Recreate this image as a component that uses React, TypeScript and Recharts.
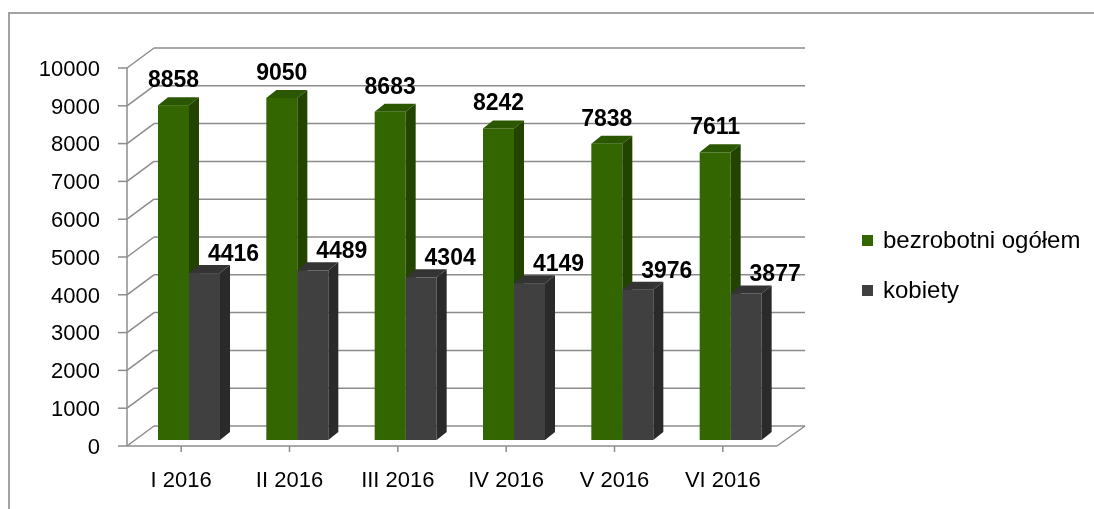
import React from 'react';
import { BarChart, Bar, XAxis, YAxis, CartesianGrid } from 'recharts';

// Dane: liczba bezrobotnych (I–VI 2016)
const miesiace = ['I 2016', 'II 2016', 'III 2016', 'IV 2016', 'V 2016', 'VI 2016'];
const bezrobotniOgolem = [8858, 9050, 8683, 8242, 7838, 7611];
const kobiety = [4416, 4489, 4304, 4149, 3976, 3877];
const yTicks = [0, 1000, 2000, 3000, 4000, 5000, 6000, 7000, 8000, 9000, 10000];
const nazwySerii = ['bezrobotni ogółem', 'kobiety'];

const FONT = '"Liberation Sans", Arial, sans-serif';
const GRID = '#8c8c8c';

const kolory = {
  ogolem: { front: '#336600', side: '#224400', top: '#2b5700' },
  kobiety: { front: '#404040', side: '#2a2a2a', top: '#343434' },
};

const W = 1078;
const H = 493;
const MARGIN = { top: 60, right: 309, bottom: 5, left: 0 };
const X_AXIS_H = 50;
const PLOT_BOTTOM = H - MARGIN.bottom - X_AXIS_H;

// przesunięcie "tylnej ściany" wykresu 3D
const WALL_DX = 27;
const WALL_DY = 20;
// głębokość słupków i ich przesunięcie w głąb
const BAR_DX = 10;
const BAR_DY = 8;
const SHIFT_X = 8;
const SHIFT_Y = -6;

const dane = miesiace.map((m, i) => ({
  miesiac: m,
  ogolem: bezrobotniOgolem[i],
  kobiety: kobiety[i],
}));

const liniaSiatki = (props: any) => {
  const { x1, y1, x2, index } = props;
  const bx1 = x1 + WALL_DX;
  const bx2 = x2 + WALL_DX + 1;
  const by = y1 - WALL_DY;
  const podloga = Math.abs(y1 - PLOT_BOTTOM) < 1;
  return (
    <g key={`grid-${index}`}>
      <line x1={x1} y1={y1} x2={bx1} y2={by} stroke={GRID} strokeWidth={1.5} />
      <line x1={bx1} y1={by} x2={bx2} y2={by} stroke={GRID} strokeWidth={1.5} />
      {podloga && <line x1={x2} y1={y1} x2={bx2} y2={by} stroke={GRID} strokeWidth={1.5} />}
    </g>
  );
};

const Slupek3D = (props: any) => {
  const { x, y, width, height, c } = props;
  if (height == null || height <= 0) return null;
  const X = x + SHIFT_X;
  const Y = y + SHIFT_Y;
  const w = width;
  const h = height;
  return (
    <g>
      <rect x={X} y={Y} width={w} height={h} fill={c.front} />
      <polygon
        points={`${X},${Y} ${X + BAR_DX},${Y - BAR_DY} ${X + w + BAR_DX},${Y - BAR_DY} ${X + w},${Y}`}
        fill={c.top}
      />
      <polygon
        points={`${X + w},${Y} ${X + w + BAR_DX},${Y - BAR_DY} ${X + w + BAR_DX},${Y + h - BAR_DY} ${X + w},${Y + h}`}
        fill={c.side}
      />
    </g>
  );
};

const etykieta = (offsetX: number, offsetY: number) => (props: any) => {
  const { x, y, width, value, index } = props;
  return (
    <text
      key={`lbl-${index}`}
      x={x + SHIFT_X + width / 2 + offsetX}
      y={y + SHIFT_Y - offsetY}
      textAnchor="middle"
      fontFamily={FONT}
      fontSize={23}
      fontWeight="bold"
      fill="#000"
    >
      {value}
    </text>
  );
};

export default function App() {
  return (
    <div style={{ position: 'relative', width: W, height: H, fontFamily: FONT }}>
      {/* ramka obszaru wykresu (wychodzi poza okno) */}
      <div
        style={{
          position: 'fixed',
          left: 8,
          top: 12,
          width: 1200,
          height: 600,
          borderTop: '2px solid #a3a3a3',
          borderLeft: '2px solid #a3a3a3',
          boxSizing: 'border-box',
        }}
      />
      <div style={{ position: 'absolute', left: 0, top: 0 }}>
        <BarChart width={W} height={H} data={dane} margin={MARGIN} barSize={31} barGap={0}>
          <CartesianGrid horizontal={liniaSiatki} vertical={false} />
          <XAxis
            dataKey="miesiac"
            height={X_AXIS_H}
            interval={0}
            tickSize={6}
            tickMargin={19}
            axisLine={{ stroke: GRID, strokeWidth: 1.5 }}
            tickLine={{ stroke: GRID, strokeWidth: 1.5 }}
            tick={{ fill: '#000', fontSize: 22, fontFamily: FONT }}
          />
          <YAxis
            width={119}
            domain={[0, 10000]}
            ticks={yTicks}
            interval={0}
            tickSize={9}
            tickMargin={18}
            axisLine={{ stroke: GRID, strokeWidth: 1.5 }}
            tickLine={{ stroke: GRID, strokeWidth: 1.5 }}
            tick={{ fill: '#000', fontSize: 22, fontFamily: FONT }}
          />
          <Bar
            dataKey="ogolem"
            name={nazwySerii[0]}
            isAnimationActive={false}
            shape={(p: any) => <Slupek3D {...p} c={kolory.ogolem} />}
            label={etykieta(0, 18)}
          />
          <Bar
            dataKey="kobiety"
            name={nazwySerii[1]}
            isAnimationActive={false}
            shape={(p: any) => <Slupek3D {...p} c={kolory.kobiety} />}
            label={etykieta(29, 12)}
          />
        </BarChart>
      </div>
      {/* legenda */}
      <div style={{ position: 'absolute', left: 854, top: 217 }}>
        {nazwySerii.map((n, i) => (
          <div
            key={n}
            style={{ display: 'flex', alignItems: 'center', height: 30, marginBottom: i === 0 ? 20 : 0 }}
          >
            <span
              style={{
                display: 'inline-block',
                width: 11,
                height: 11,
                background: i === 0 ? kolory.ogolem.front : kolory.kobiety.front,
                marginRight: 10,
              }}
            />
            <span style={{ fontSize: 24, color: '#000', whiteSpace: 'nowrap' }}>{n}</span>
          </div>
        ))}
      </div>
    </div>
  );
}
